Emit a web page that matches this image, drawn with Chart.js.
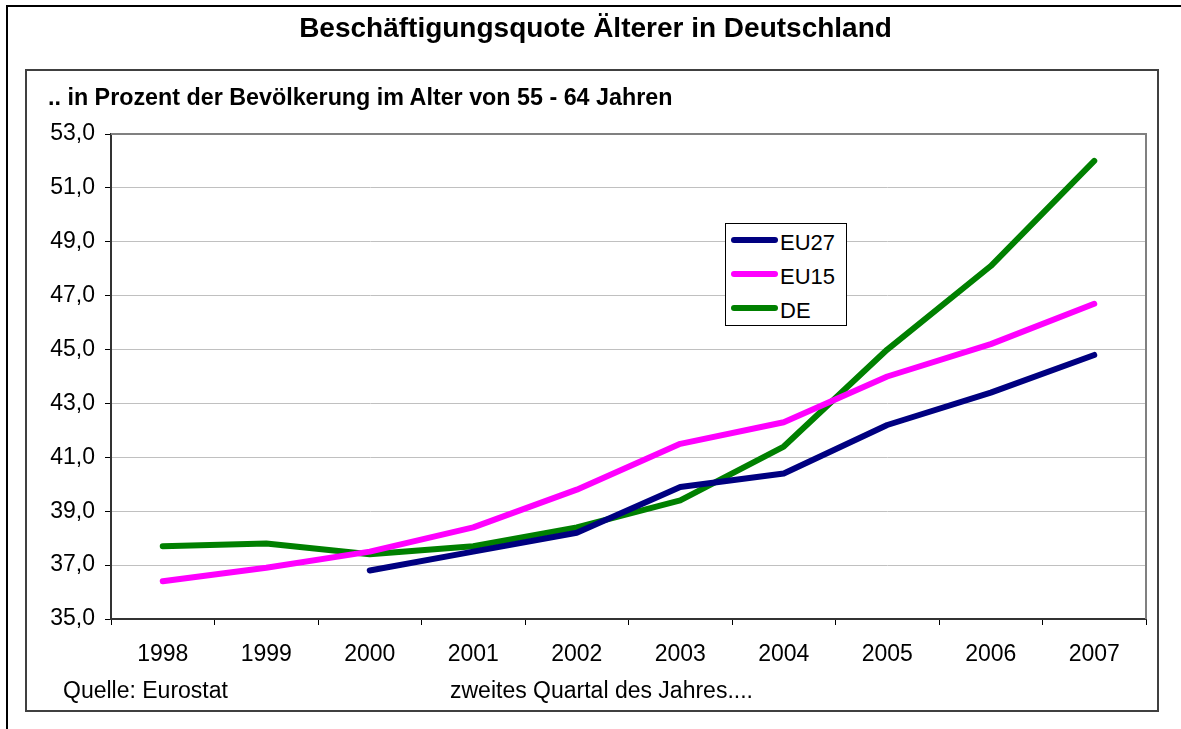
<!DOCTYPE html>
<html>
<head>
<meta charset="utf-8">
<script src="https://cdn.jsdelivr.net/npm/chart.js@4/dist/chart.umd.min.js"></script>
<style>
  html, body { margin: 0; padding: 0; background: #fff; }
  body { width: 1181px; height: 729px; position: relative; overflow: hidden;
         font-family: "Liberation Sans", Arial, sans-serif; color: #000; }
  #outer { position: absolute; left: 6px; top: 5px; width: 1200px; height: 800px;
           border-left: 2px solid #000; border-top: 2px solid #000; box-sizing: border-box; }
  #inner { position: absolute; left: 25px; top: 69px; width: 1134px; height: 643px;
           border: 2px solid #404040; box-sizing: border-box; }
  #chartwrap { position: absolute; left: 0; top: 0; width: 1181px; height: 729px; }
  .txt { position: absolute; white-space: nowrap; line-height: 1; }
  #title { left: 7px; width: 1177px; text-align: center; top: 13.5px; font-size: 28px; font-weight: bold; }
  #subtitle { left: 48px; top: 86.3px; font-size: 23.3px; font-weight: bold; }
  #src { left: 63px; top: 678.5px; font-size: 23px; }
  #note { left: 450px; top: 678.5px; font-size: 23px; }
  #legend { position: absolute; left: 725px; top: 223px; width: 122px; height: 103px;
            border: 1px solid #000; box-sizing: border-box; background: #fff; }
  .lg-line { position: absolute; height: 6px; border-radius: 3px; }
  .lg-text { position: absolute; font-size: 22px; line-height: 1; white-space: nowrap; }
</style>
</head>
<body>
<div id="outer"></div>
<div id="inner"></div>
<div id="chartwrap"><canvas id="c" width="1181" height="729"></canvas></div>
<div id="title" class="txt">Beschäftigungsquote Älterer in Deutschland</div>
<div id="subtitle" class="txt">.. in Prozent der Bevölkerung im Alter von 55 - 64 Jahren</div>
<div id="src" class="txt">Quelle: Eurostat</div>
<div id="note" class="txt">zweites Quartal des Jahres....</div>
<div id="legend"></div>
<script>
const years = ["1998","1999","2000","2001","2002","2003","2004","2005","2006","2007"];
const eu27 = [null, null, 36.8, 37.5, 38.2, 39.9, 40.4, 42.2, 43.4, 44.8];
const eu15 = [36.4, 36.9, 37.5, 38.4, 39.8, 41.5, 42.3, 44.0, 45.2, 46.7];
const de   = [37.7, 37.8, 37.4, 37.7, 38.4, 39.4, 41.4, 45.0, 48.1, 52.0];
const seriesNames = ["EU27", "EU15", "DE"];
const seriesColors = ["#000080", "#FF00FF", "#008000"];
const yMin = 35, yMax = 53, yStep = 2;

const FONT = '"Liberation Sans", Arial, sans-serif';

const plotFrame = {
  id: 'plotFrame',
  beforeDatasetsDraw(chart) {
    const a = chart.chartArea, ctx = chart.ctx;
    ctx.save();
    ctx.strokeStyle = '#808080';
    ctx.lineWidth = 2;
    ctx.beginPath();
    ctx.moveTo(a.left, a.top);
    ctx.lineTo(a.right, a.top);
    ctx.lineTo(a.right, a.bottom);
    ctx.stroke();
    ctx.restore();
  }
};

const mk = (i, data) => ({
  label: seriesNames[i], data: data,
  borderColor: seriesColors[i], backgroundColor: seriesColors[i],
  borderWidth: 6, pointRadius: 0, pointHoverRadius: 0, tension: 0,
  borderCapStyle: 'round', borderJoinStyle: 'round', spanGaps: false, fill: false
});

const chart = new Chart(document.getElementById('c'), {
  type: 'line',
  data: { labels: years, datasets: [mk(0, eu27), mk(1, eu15), mk(2, de)] },
  options: {
    responsive: false, animation: false, devicePixelRatio: 1,
    layout: { padding: { left: 0, top: 134, right: 35, bottom: 0 } },
    plugins: { legend: { display: false }, tooltip: { enabled: false }, title: { display: false } },
    scales: {
      x: {
        type: 'category', offset: true,
        grid: { offset: true, drawOnChartArea: false, drawTicks: true, tickLength: 6, tickColor: '#000', lineWidth: 1 },
        border: { display: true, color: '#333', width: 2 },
        ticks: { color: '#000', font: { family: FONT, size: 23 }, padding: 16, maxRotation: 0, autoSkip: false },
        afterFit(s) { s.height = 110; }
      },
      y: {
        min: yMin, max: yMax,
        grid: { color: '#c0c0c0', lineWidth: 1, tickLength: 6, tickColor: '#000', drawTicks: true },
        border: { display: true, color: '#333', width: 2 },
        ticks: { stepSize: yStep, color: '#000', font: { family: FONT, size: 23 }, padding: 10,
                 callback: v => v.toFixed(1).replace('.', ',') },
        afterFit(s) { s.width = 111; }
      }
    }
  },
  plugins: [plotFrame]
});

// HTML legend built from the datasets
const lg = document.getElementById('legend');
chart.data.datasets.forEach((ds, i) => {
  const line = document.createElement('div');
  line.className = 'lg-line';
  line.style.left = '5px';
  line.style.width = '47px';
  line.style.top = (13 + 34 * i) + 'px';
  line.style.background = ds.borderColor;
  lg.appendChild(line);
  const t = document.createElement('div');
  t.className = 'lg-text';
  t.style.left = '54px';
  t.style.top = (7.5 + 34 * i) + 'px';
  t.textContent = ds.label;
  lg.appendChild(t);
});
</script>
</body>
</html>
